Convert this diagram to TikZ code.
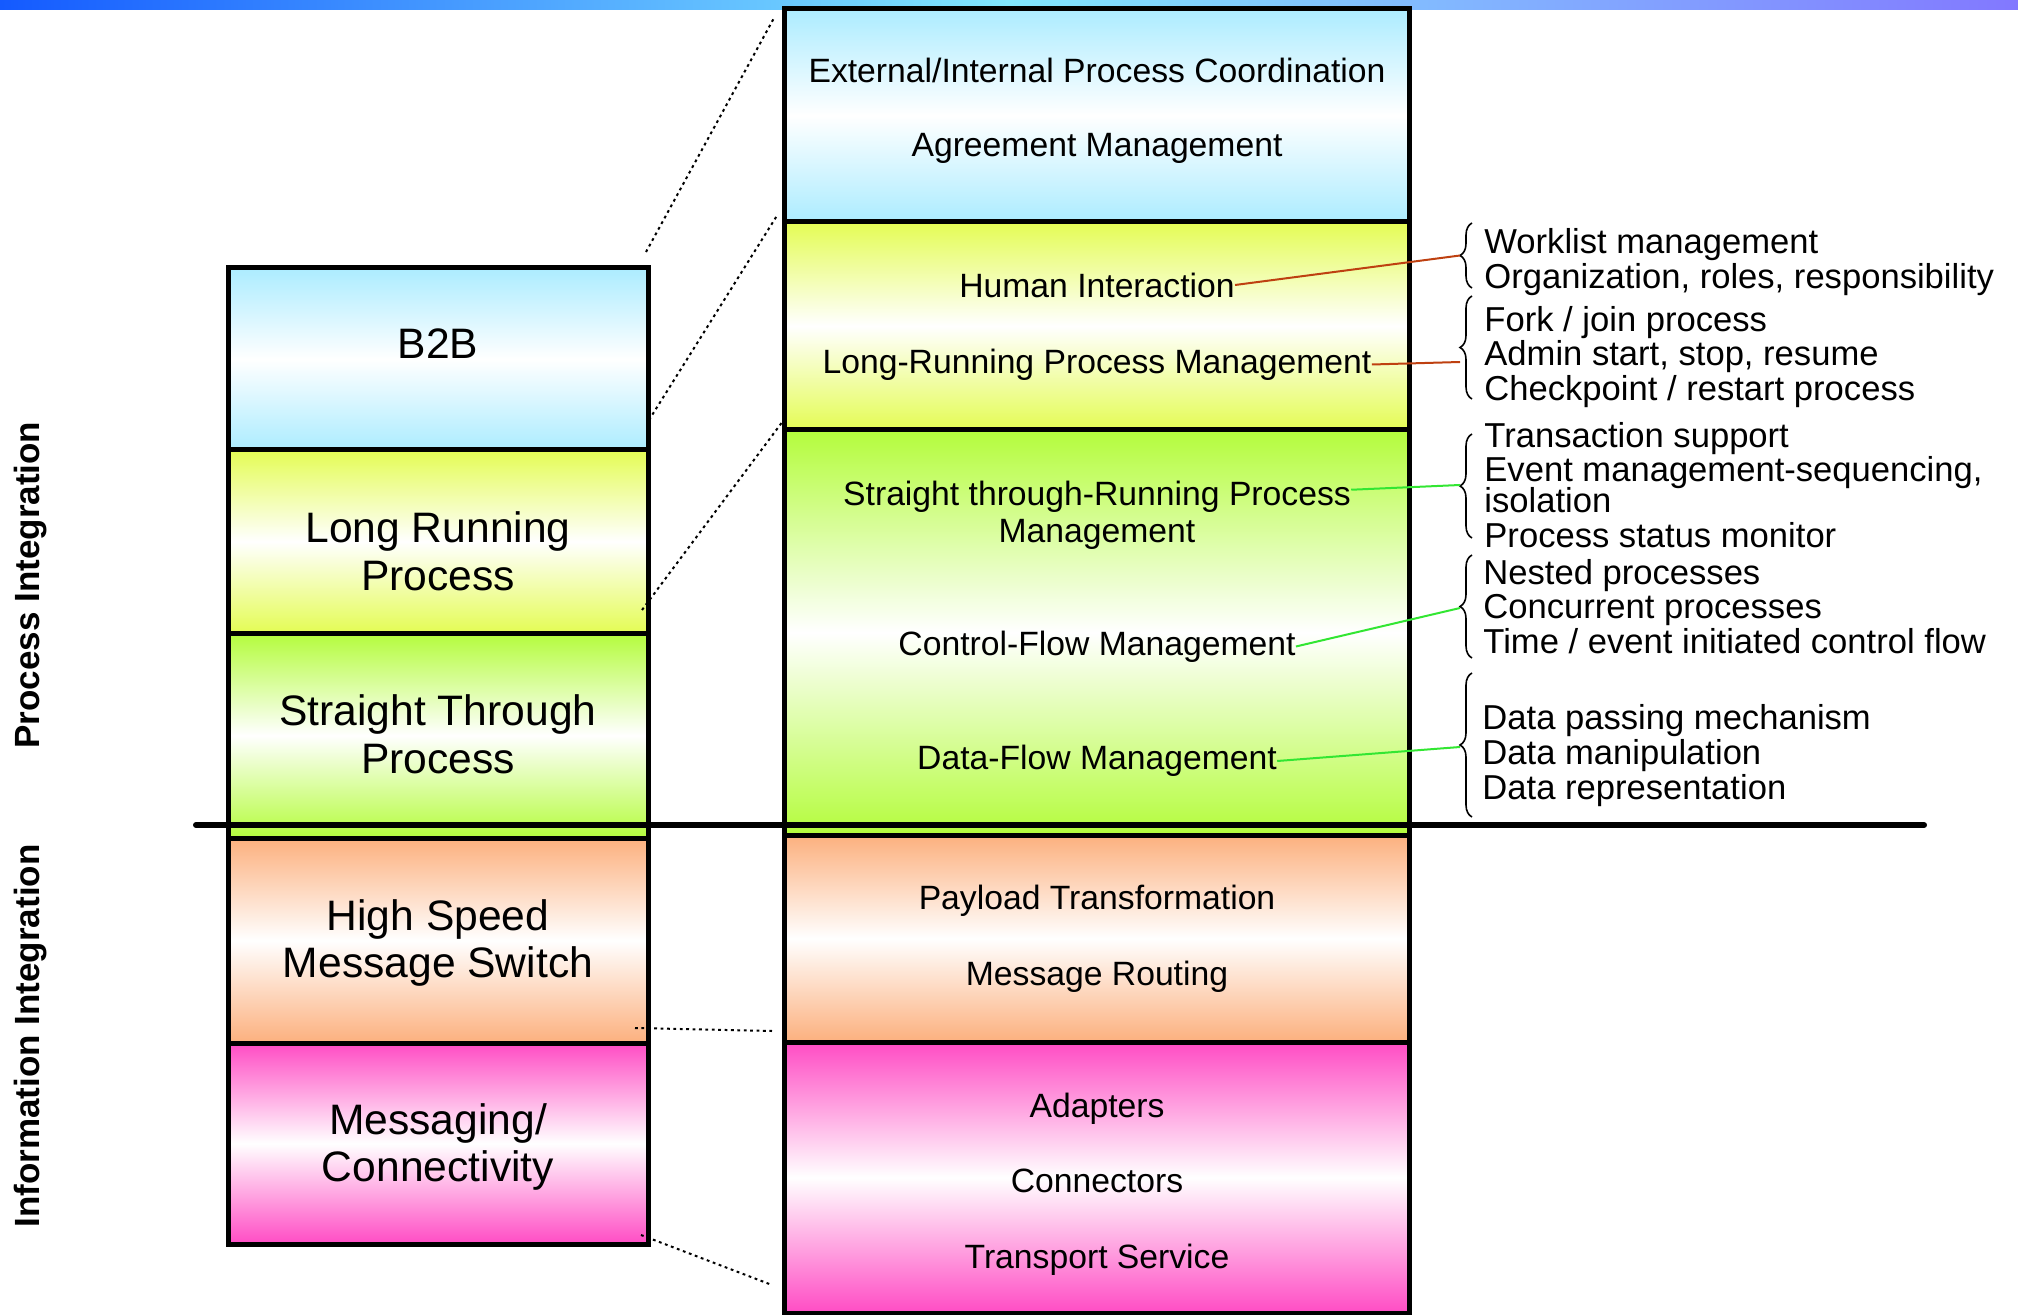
\documentclass[tikz,border=0pt]{standalone}
\usepackage{fontspec}
\setmainfont{Liberation Sans}
\usetikzlibrary{decorations.pathreplacing,calc}

\definecolor{skyfill}{RGB}{172,236,255}
\definecolor{limefill}{RGB}{228,252,84}
\definecolor{grassfill}{RGB}{180,252,60}
\definecolor{peachfill}{RGB}{252,176,126}
\definecolor{pinkfill}{RGB}{255,76,196}
\definecolor{linkbrown}{RGB}{190,64,16}
\definecolor{linkgreen}{RGB}{50,230,50}
\definecolor{barleft}{RGB}{20,90,255}
\definecolor{barmid}{RGB}{130,232,255}
\definecolor{barright}{RGB}{130,120,255}

\begin{document}
\begin{tikzpicture}[x=0.5pt,y=-0.5pt,
  layer/.style={draw, line width=2.5pt, anchor=north west, inner sep=0pt, outer sep=0pt,
    top color=#1, bottom color=#1, middle color=white},
  leftlayer/.style={layer=#1, minimum width=210pt},
  rightlayer/.style={layer=#1, minimum width=312.5pt},
  bigtext/.style={align=center, inner sep=0pt, font=\fontsize{21.3}{23.8}\selectfont},
  midtext/.style={align=center, inner sep=0pt, font=\fontsize{16.85}{18.65}\selectfont},
  smalltext/.style={align=left, anchor=west, inner sep=0pt, font=\fontsize{17.3}{17.4}\selectfont},
  sidetext/.style={rotate=90, inner sep=0pt, font=\bfseries\fontsize{17.5}{17.5}\selectfont},
  curly/.style={decorate, decoration={brace, amplitude=6pt}, line width=0.8pt},
  zoomline/.style={line width=1pt, dash pattern=on 1.4pt off 1.8pt},
  brownlink/.style={draw=linkbrown, line width=1pt},
  greenlink/.style={draw=linkgreen, line width=1pt}]
  \useasboundingbox (0,0) rectangle (2018,1315);
  \shade[left color=barleft, right color=barright, middle color=barmid] (0,0) rectangle (2018,10);

  % left stack
  \node (b2b) [leftlayer=skyfill, minimum height=91pt] at (228,268) {};
  \node (lrp) [leftlayer=limefill, minimum height=91.5pt] at (228,450) {};
  \node (stp) [leftlayer=grassfill, minimum height=102.5pt] at (228,633) {};
  \node (hsm) [leftlayer=peachfill, minimum height=102.5pt] at (228,838) {};
  \node (mcn) [leftlayer=pinkfill, minimum height=100.5pt] at (228,1043) {};
  \node (b2bText) [bigtext] at (438,344) {B2B};
  \node (lrpText) [bigtext] at (438,551) {Long Running\\Process};
  \node (stpText) [bigtext] at (438,734) {Straight Through\\Process};
  \node (hsmText) [bigtext] at (438,943) {High Speed\\Message Switch};
  \node (mcnText) [bigtext] at (438,1147) {Messaging/\\Connectivity};

  % right stack
  \node (ext) [rightlayer=skyfill, minimum height=106.5pt] at (784,9) {};
  \node (hum) [rightlayer=limefill, minimum height=104pt] at (784,222) {};
  \node (str) [rightlayer=grassfill, minimum height=202.5pt] at (784,430) {};
  \node (pay) [rightlayer=peachfill, minimum height=103.5pt] at (784,835) {};
  \node (ada) [rightlayer=pinkfill, minimum height=135.5pt] at (784,1042) {};
  \node (ext1) [midtext] at (1097,70) {External/Internal Process Coordination};
  \node (ext2) [midtext] at (1097,148) {Agreement Management};
  \node (hum1) [midtext] at (1097,285) {Human Interaction};
  \node (hum2) [midtext] at (1097,364.5) {Long-Running Process Management};
  \node (str1) [midtext] at (1097,515.5) {Straight through-Running Process\\Management};
  \node (str2) [midtext] at (1097,646.5) {Control-Flow Management};
  \node (str3) [midtext] at (1097,761) {Data-Flow Management};
  \node (pay1) [midtext] at (1097,901) {Payload Transformation};
  \node (pay2) [midtext] at (1097,977) {Message Routing};
  \node (ada1) [midtext] at (1097,1108.5) {Adapters};
  \node (ada2) [midtext] at (1097,1181) {Connectors};
  \node (ada3) [midtext] at (1097,1260) {Transport Service};

  % side labels
  \node (procLabel) [sidetext] at (31,585) {Process Integration};
  \node (infoLabel) [sidetext] at (31,1036) {Information Integration};

  % divider
  \draw[line width=3pt, line cap=round] (196,825) -- (1924,825);

  % zoom lines
  \coordinate (zA1) at (646,252);  \coordinate (zA2) at (774,18);
  \coordinate (zB1) at (649,420);  \coordinate (zB2) at (778,214);
  \coordinate (zC1) at (642,610);  \coordinate (zC2) at (783,421);
  \coordinate (zD1) at (635,1028); \coordinate (zD2) at (772,1031);
  \coordinate (zE1) at (641,1235); \coordinate (zE2) at (772,1285);
  \draw[zoomline] (zA1) -- (zA2);
  \draw[zoomline] (zB1) -- (zB2);
  \draw[zoomline] (zC1) -- (zC2);
  \draw[zoomline] (zD1) -- (zD2);
  \draw[zoomline] (zE1) -- (zE2);

  % braces and detail lists
  \draw[curly] (1472,288) -- (1472,223);
  \draw[curly] (1472,399) -- (1472,296);
  \draw[curly] (1472,538) -- (1472,434);
  \draw[curly] (1472,658) -- (1472,555);
  \draw[curly] (1472,817) -- (1472,673);
  \coordinate (tipA) at (1460,255.5);
  \coordinate (tipB) at (1460,362);
  \coordinate (tipC) at (1460,485);
  \coordinate (tipD) at (1460,608);
  \coordinate (tipE) at (1460,747);
  \node (wl) [smalltext] at (1484,262) {Worklist management\\Organization, roles, responsibility};
  \node (fk) [smalltext] at (1484,357) {Fork / join process\\Admin start, stop, resume\\Checkpoint / restart process};
  \node (tr) [smalltext] at (1484,485) {Transaction support\\Event management-sequencing,\\[-2pt]isolation\\Process status monitor};
  \node (ne) [smalltext] at (1483,606.5) {Nested processes\\Concurrent processes\\Time / event initiated control flow};
  \node (dp) [smalltext] at (1482,755.5) {Data passing mechanism\\Data manipulation\\Data representation};

  % links
  \coordinate (strEnd) at ($(str1.north east)+(0,9)$);
  \draw[brownlink] (hum1.east) -- (tipA);
  \draw[brownlink] (hum2.east) -- (tipB);
  \draw[greenlink] (strEnd) -- (tipC);
  \draw[greenlink] (str2.east) -- (tipD);
  \draw[greenlink] (str3.east) -- (tipE);
\end{tikzpicture}
\end{document}
